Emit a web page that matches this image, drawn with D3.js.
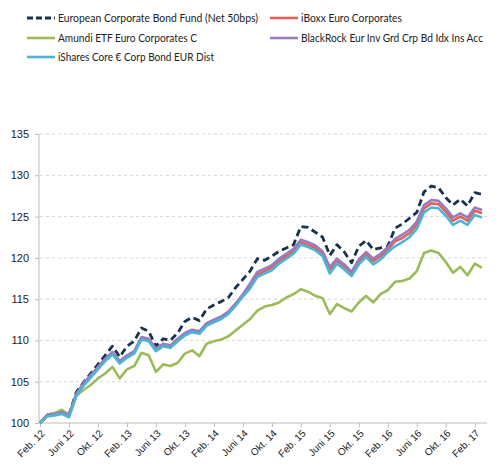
<!DOCTYPE html>
<html>
<head>
<meta charset="utf-8">
<script src="https://cdn.jsdelivr.net/npm/d3@7"></script>
<style>
  body { margin: 0; background: #fff; }
  svg { font-family: Lato, "Open Sans", sans-serif; }
  .legend text { font-size: 10.5px; fill: #222; }
  .axis text { font-size: 10px; fill: #222; }
  .axis path, .axis line { stroke: #bdbdbd; }
  .grid line { stroke: #d6d6d6; stroke-dasharray: 3,3; }
</style>
</head>
<body>
<script>
// Monthly index values, Feb 12 = 100
var months = ["Feb. 12","Mär. 12","Apr. 12","Mai 12","Juni 12","Juli 12","Aug. 12","Sep. 12","Okt. 12","Nov. 12","Dez. 12",
  "Jan. 13","Feb. 13","Mär. 13","Apr. 13","Mai 13","Juni 13","Juli 13","Aug. 13","Sep. 13","Okt. 13","Nov. 13","Dez. 13",
  "Jan. 14","Feb. 14","Mär. 14","Apr. 14","Mai 14","Juni 14","Juli 14","Aug. 14","Sep. 14","Okt. 14","Nov. 14","Dez. 14",
  "Jan. 15","Feb. 15","Mär. 15","Apr. 15","Mai 15","Juni 15","Juli 15","Aug. 15","Sep. 15","Okt. 15","Nov. 15","Dez. 15",
  "Jan. 16","Feb. 16","Mär. 16","Apr. 16","Mai 16","Juni 16","Juli 16","Aug. 16","Sep. 16","Okt. 16","Nov. 16","Dez. 16",
  "Jan. 17","Feb. 17","Mär. 17"];

var europeanFund = [100,101.0,101.1,101.4,101.0,103.7,104.9,106.0,107.1,108.2,109.3,
  108.0,109.3,109.9,111.5,111.1,109.3,110.2,110.0,110.9,112.3,112.8,112.4,
  113.8,114.3,114.7,115.2,116.4,117.4,118.4,119.9,119.7,120.2,120.8,121.2,
  121.6,123.8,123.7,123.1,122.5,120.3,121.6,120.7,119.4,121.4,122.1,121.0,
  121.2,121.4,123.6,124.1,124.8,125.5,128.0,128.7,128.5,127.3,126.4,127.1,
  126.3,127.9,127.7];

var iboxx = [100,100.9,101.0,101.2,100.9,103.4,104.7,105.7,106.7,107.7,108.5,
  107.4,108.1,108.6,110.3,110.1,108.9,109.5,109.3,110.1,110.8,111.2,111.0,
  112.0,112.4,112.8,113.4,114.4,115.4,116.6,118.0,118.4,118.8,119.6,120.2,
  120.8,121.9,121.6,121.2,120.5,118.6,119.6,118.9,118.0,119.5,120.4,119.6,
  120.2,121.0,122.0,122.4,123.0,124.0,126.0,126.6,126.5,125.6,124.5,125.0,
  124.5,125.7,125.4];

var amundi = [100,101.0,101.2,101.6,101.0,103.3,104.0,104.6,105.4,106.0,106.8,
  105.4,106.5,106.9,108.5,108.2,106.2,107.1,106.9,107.3,108.4,108.8,108.1,
  109.6,109.9,110.1,110.5,111.2,111.9,112.6,113.6,114.1,114.3,114.6,115.2,
  115.6,116.2,115.9,115.4,115.1,113.2,114.4,113.9,113.5,114.6,115.4,114.6,
  115.6,116.1,117.1,117.2,117.5,118.4,120.6,120.9,120.6,119.5,118.2,118.9,
  117.9,119.3,118.8];

var blackrock = [100,101.0,101.1,101.3,101.0,103.5,104.8,105.8,106.8,107.8,108.6,
  107.5,108.2,108.7,110.4,110.2,109.0,109.6,109.4,110.2,110.9,111.3,111.1,
  112.1,112.5,112.9,113.5,114.5,115.6,116.9,118.3,118.7,119.1,119.9,120.5,
  121.1,122.2,121.9,121.5,120.8,118.9,119.9,119.2,118.3,119.8,120.7,119.9,
  120.5,121.3,122.3,122.8,123.4,124.4,126.4,127.0,126.9,126.0,124.9,125.4,
  124.9,126.1,125.8];

var ishares = [100,100.8,100.9,101.1,100.7,103.2,104.5,105.5,106.5,107.5,108.3,
  107.2,107.9,108.4,110.1,109.9,108.7,109.3,109.1,109.9,110.6,111.0,110.8,
  111.8,112.2,112.6,113.2,114.2,115.3,116.3,117.7,118.1,118.5,119.3,119.9,
  120.5,121.6,121.3,120.9,120.2,118.1,119.3,118.6,117.8,119.2,120.1,119.2,
  119.8,120.7,121.4,121.9,122.5,123.5,125.5,126.1,126.0,125.1,124.0,124.5,
  124.0,125.2,124.9];

var seriesNames = ["European Corporate Bond Fund (Net 50bps)", "iBoxx Euro Corporates",
  "Amundi ETF Euro Corporates C", "BlackRock Eur Inv Grd Crp Bd Idx Ins Acc",
  "iShares Core \u20ac Corp Bond EUR Dist"];
var seriesValues = [europeanFund, iboxx, amundi, blackrock, ishares];
var colors = ["#17324f", "#e2615a", "#9bbb59", "#9a7bbf", "#4bb6d3"];

var yTicks = [100, 105, 110, 115, 120, 125, 130, 135];
var xTickIndex = d3.range(0, 61, 4);

var width = 500, height = 471;

var svg = d3.select("body").append("svg")
  .attr("width", width)
  .attr("height", height);

var x = d3.scaleLinear().domain([0, 61]).range([40, 482]);
var y = d3.scaleLinear().domain([100, 135]).range([423, 134]);
var xEnd = 487;

// gridlines
svg.append("g")
  .attr("class", "grid")
  .selectAll("line")
  .data(yTicks.slice(1))
  .enter()
  .append("line")
  .attr("x1", 40).attr("x2", xEnd)
  .attr("y1", d => y(d)).attr("y2", d => y(d));

// y axis
var yAxis = svg.append("g")
  .attr("class", "axis")
  .attr("transform", "translate(39,0)")
  .call(d3.axisLeft(y).tickValues(yTicks).tickSize(4).tickPadding(6));
yAxis.select(".domain").attr("d", "M0," + y(135) + "V" + y(100));
yAxis.selectAll("text").style("font-size", "11px");

// x axis
var xAxis = svg.append("g")
  .attr("class", "axis")
  .attr("transform", "translate(0," + y(100) + ")")
  .call(d3.axisBottom(x).tickValues(xTickIndex).tickSize(4).tickFormat(i => months[i]));
xAxis.select(".domain").attr("d", "M39,0H" + xEnd);
xAxis.selectAll("text")
  .attr("text-anchor", "end")
  .attr("dy", null)
  .attr("y", 0)
  .attr("transform", "translate(5,11) rotate(-45)");

// lines
var line = d3.line()
  .x((d, i) => x(i))
  .y(d => y(d));

seriesValues.forEach(function(vals, k) {
  svg.append("path")
    .datum(vals)
    .attr("fill", "none")
    .attr("stroke", colors[k])
    .attr("stroke-width", k === 0 ? 2.8 : 2.6)
    .attr("stroke-linejoin", "round")
    .attr("stroke-dasharray", k === 0 ? "7,4" : null)
    .attr("d", line);
});

// legend
var legendPos = [[27, 18], [270, 18], [27, 38], [270, 38], [27, 57]];
var legendWidth = [200, 101, 139, 182, 156];
var legend = svg.append("g").attr("class", "legend");
seriesNames.forEach(function(name, k) {
  var p = legendPos[k];
  legend.append("line")
    .attr("x1", p[0]).attr("x2", p[0] + 28)
    .attr("y1", p[1]).attr("y2", p[1])
    .attr("stroke", colors[k])
    .attr("stroke-width", k === 0 ? 2.8 : 2.6)
    .attr("stroke-dasharray", k === 0 ? "6,3" : null);
  legend.append("text")
    .attr("x", p[0] + 31)
    .attr("y", p[1])
    .attr("dy", "0.35em")
    .attr("textLength", legendWidth[k])
    .attr("lengthAdjust", "spacingAndGlyphs")
    .text(name);
});
</script>
</body>
</html>
